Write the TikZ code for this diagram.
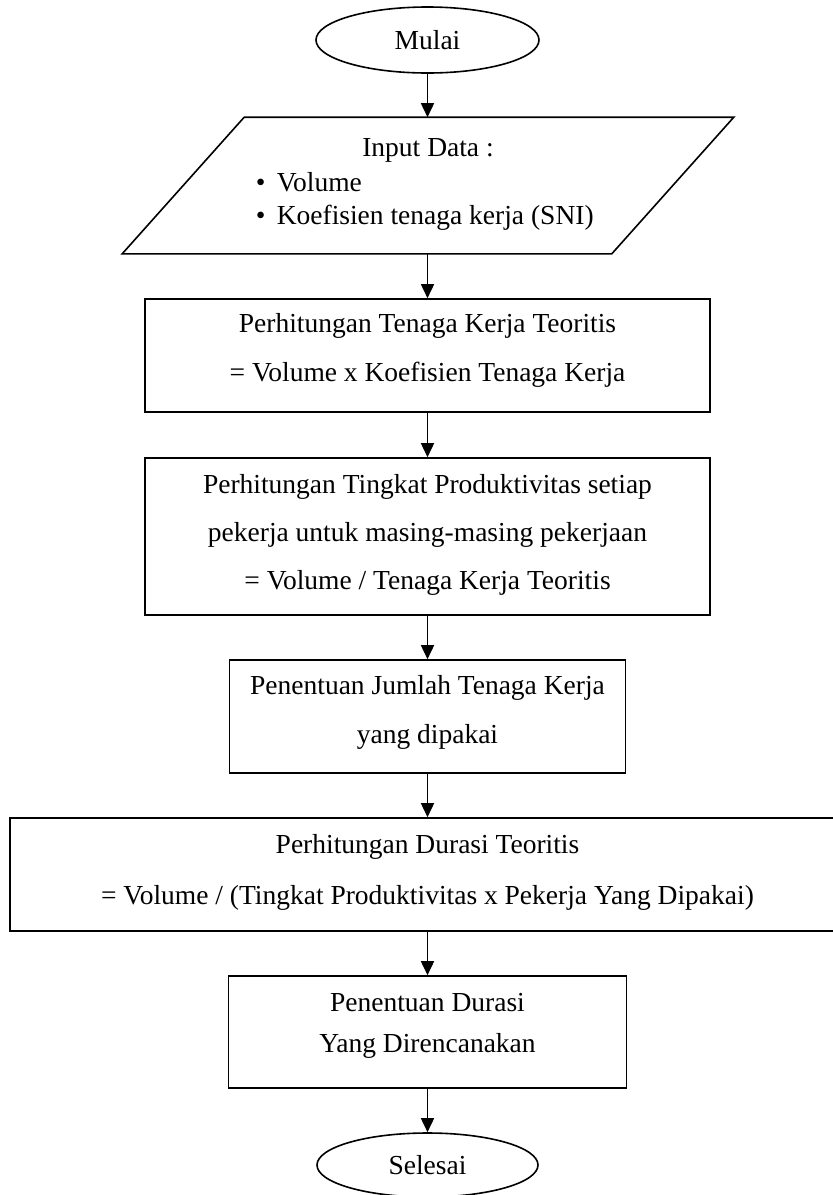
\documentclass[tikz,border=0pt]{standalone}
\usepackage{fontspec}
\setmainfont{Liberation Serif}
\usetikzlibrary{shapes.geometric,arrows.meta,calc}
\begin{document}
\begin{tikzpicture}[x=1pt,y=-1pt,
  line width=1.6pt,
  box/.style={draw, rectangle, inner sep=0pt},
  term/.style={draw, ellipse, inner sep=0pt, font=\fontsize{27.5}{33}\selectfont},
  txt/.style={align=center, inner sep=0pt, font=\fontsize{27.5}{#1}\selectfont},
  arr/.style={-{Triangle[length=14pt,width=13pt]}},
]
\useasboundingbox (0,0) rectangle (833,1195);

% start
\node[term, minimum width=223pt, minimum height=66pt] (mulai) at (427.5,40) {Mulai};

% input parallelogram
\node[inner sep=0pt, minimum width=610pt, minimum height=135pt] (inp) at (428,185.5) {};
\draw[line join=miter] ($(inp.north west)+(122,0)$) -- (inp.north east)
  -- ($(inp.south east)-(122,0)$) -- (inp.south west) -- cycle;
\node[txt=34] (inptitle) at (428,150) {Input Data :};
\node[align=left, anchor=west, inner sep=0pt, font=\fontsize{27.5}{33.5}\selectfont] (inplist) at (255,201.5)
  {\makebox[21pt][l]{•}Volume\\\makebox[21pt][l]{•}Koefisien tenaga kerja (SNI)};

% box 1
\node[box, minimum width=565pt, minimum height=113pt] (b1) at (427.5,355.5) {};
\node[txt=49] (t1) at (427.5,350.5) {Perhitungan Tenaga Kerja Teoritis\\= Volume x Koefisien Tenaga Kerja};

% box 2
\node[box, minimum width=565pt, minimum height=157pt] (b2) at (427.5,536.5) {};
\node[txt=48] (t2) at (427.5,535) {Perhitungan Tingkat Produktivitas setiap\\pekerja untuk masing-masing pekerjaan\\= Volume / Tenaga Kerja Teoritis};

% box 3
\node[box, minimum width=396pt, minimum height=113pt] (b3) at (427.5,716.5) {};
\node[txt=49] (t3) at (427.5,712.5) {Penentuan Jumlah Tenaga Kerja\\yang dipakai};

% box 4
\node[box, minimum width=835pt, minimum height=113pt] (b4) at (427.5,874.5) {};
\node[txt=51] (t4) at (427.5,872.5) {Perhitungan Durasi Teoritis\\= Volume / (Tingkat Produktivitas x Pekerja Yang Dipakai)};

% box 5
\node[box, minimum width=398pt, minimum height=112pt] (b5) at (427.5,1032) {};
\node[txt=41] (t5) at (427.5,1025.5) {Penentuan Durasi\\Yang Direncanakan};

% end
\node[term, minimum width=221pt, minimum height=64pt] (selesai) at (427.5,1165) {Selesai};

% connectors
\draw[arr] (mulai.south) -- (mulai.south |- inp.north);
\draw[arr] (inp.south -| b1.north) -- (b1.north);
\draw[arr] (b1.south) -- (b2.north);
\draw[arr] (b2.south) -- (b3.north);
\draw[arr] (b3.south) -- (b4.north);
\draw[arr] (b4.south) -- (b5.north);
\draw[arr] (b5.south) -- (selesai.north);
\end{tikzpicture}
\end{document}
